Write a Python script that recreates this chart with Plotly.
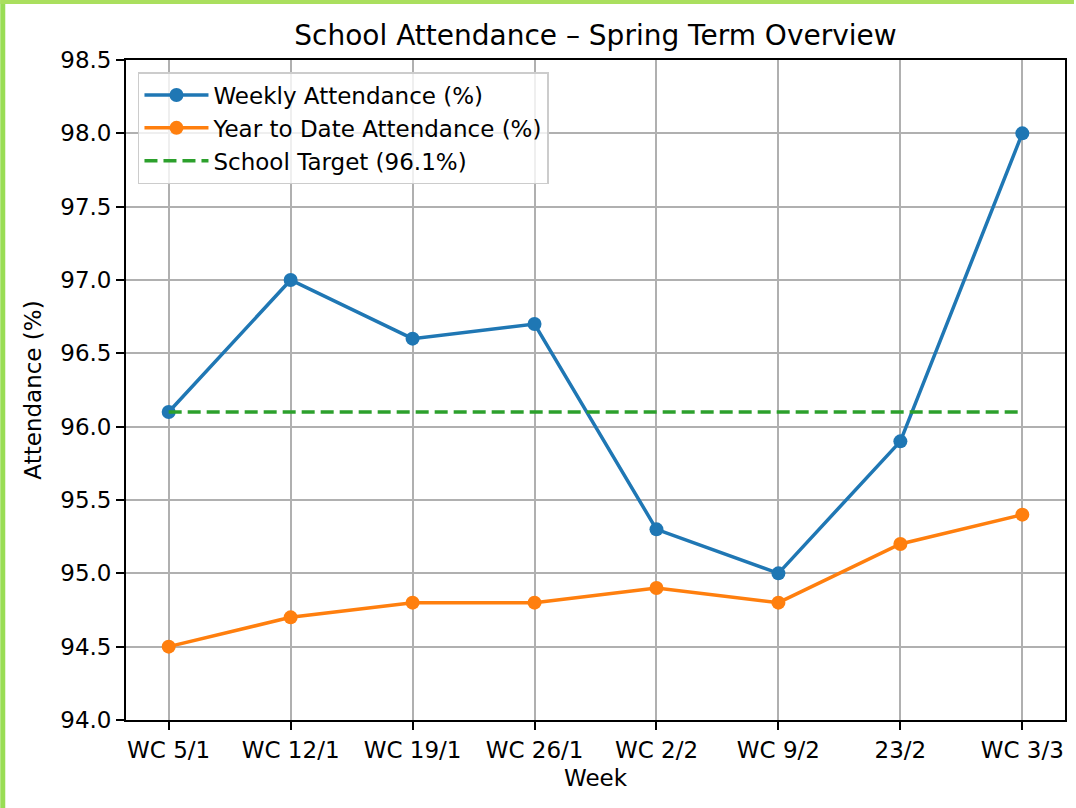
import plotly.graph_objects as go

weeks = ["WC 5/1", "WC 12/1", "WC 19/1", "WC 26/1", "WC 2/2", "WC 9/2", "23/2", "WC 3/3"]
weekly = [96.1, 97.0, 96.6, 96.7, 95.3, 95.0, 95.9, 98.0]
ytd = [94.5, 94.7, 94.8, 94.8, 94.9, 94.8, 95.2, 95.4]
target = 96.1
y_ticks = [94.0, 94.5, 95.0, 95.5, 96.0, 96.5, 97.0, 97.5, 98.0, 98.5]

x_idx = list(range(len(weeks)))
FONT = "DejaVu Sans"
TXT = "black"

fig = go.Figure()
fig.add_trace(go.Scatter(
    x=x_idx, y=weekly, mode="lines+markers", name="Weekly Attendance (%)",
    line=dict(color="#1f77b4", width=3.5),
    marker=dict(color="#1f77b4", size=14),
))
fig.add_trace(go.Scatter(
    x=x_idx, y=ytd, mode="lines+markers", name="Year to Date Attendance (%)",
    line=dict(color="#ff7f0e", width=3.5),
    marker=dict(color="#ff7f0e", size=14),
))
fig.add_trace(go.Scatter(
    x=[x_idx[0], x_idx[-1]], y=[target, target], mode="lines",
    name=f"School Target ({target}%)",
    line=dict(color="#2ca02c", width=3.5, dash="13px,6px"),
))

W, H = 1076, 808
L, R, T, B = 126, 1067, 60, 720
pw, ph = R - L, B - T

def px2x(px):
    return (px - L) / pw

def py2y(py):
    return 1 - (py - T) / ph

fig.update_layout(
    width=W, height=H, autosize=False,
    margin=dict(l=L, r=W - R, t=T, b=H - B, pad=0),
    paper_bgcolor="white", plot_bgcolor="white",
    font=dict(family=FONT, size=23, color=TXT),
    title=dict(text="School Attendance \u2013 Spring Term Overview",
               x=0.5, xref="paper", xanchor="center",
               y=1 - 35 / H, yanchor="middle",
               font=dict(size=28, color=TXT, family=FONT)),
    showlegend=True,
    legend=dict(
        x=px2x(138), y=py2y(72), xanchor="left", yanchor="top",
        bgcolor="rgba(255,255,255,0.8)", bordercolor="#cccccc", borderwidth=1.5,
        font=dict(size=23, family=FONT, color=TXT),
        itemwidth=64, tracegroupgap=0,
    ),
    xaxis=dict(
        range=[-0.35, 7.35], tickmode="array", tickvals=x_idx, ticktext=weeks,
        showgrid=True, gridcolor="#b0b0b0", gridwidth=1.8,
        showline=True, linecolor="black", linewidth=1.8, mirror=True,
        ticks="outside", ticklen=8, tickwidth=1.8, tickcolor="black",
        tickfont=dict(size=23, family=FONT, color=TXT),
        title=dict(text="Week", font=dict(size=23, family=FONT, color=TXT), standoff=8),
        zeroline=False,
    ),
    yaxis=dict(
        range=[94.0, 98.5], tickmode="array", tickvals=y_ticks,
        ticktext=[f"{v:.1f}" for v in y_ticks],
        showgrid=True, gridcolor="#b0b0b0", gridwidth=1.8,
        showline=True, linecolor="black", linewidth=1.8, mirror=True,
        ticks="outside", ticklen=8, tickwidth=1.8, tickcolor="black",
        tickfont=dict(size=23, family=FONT, color=TXT),
        title=dict(text="Attendance (%)", font=dict(size=23, family=FONT, color=TXT), standoff=12),
        zeroline=False,
    ),
    shapes=[
        dict(type="rect", xref="paper", yref="paper",
             x0=px2x(0), x1=px2x(5), y0=py2y(H), y1=py2y(0),
             fillcolor="#99dd55", line=dict(width=0), layer="above"),
        dict(type="rect", xref="paper", yref="paper",
             x0=px2x(0), x1=px2x(W), y0=py2y(4), y1=py2y(0),
             fillcolor="#aadf5e", line=dict(width=0), layer="above"),
    ],
)

fig.write_html("out.html",
               config={"displayModeBar": False},
               post_script="document.body.style.margin='0px';document.body.style.padding='0px';")
